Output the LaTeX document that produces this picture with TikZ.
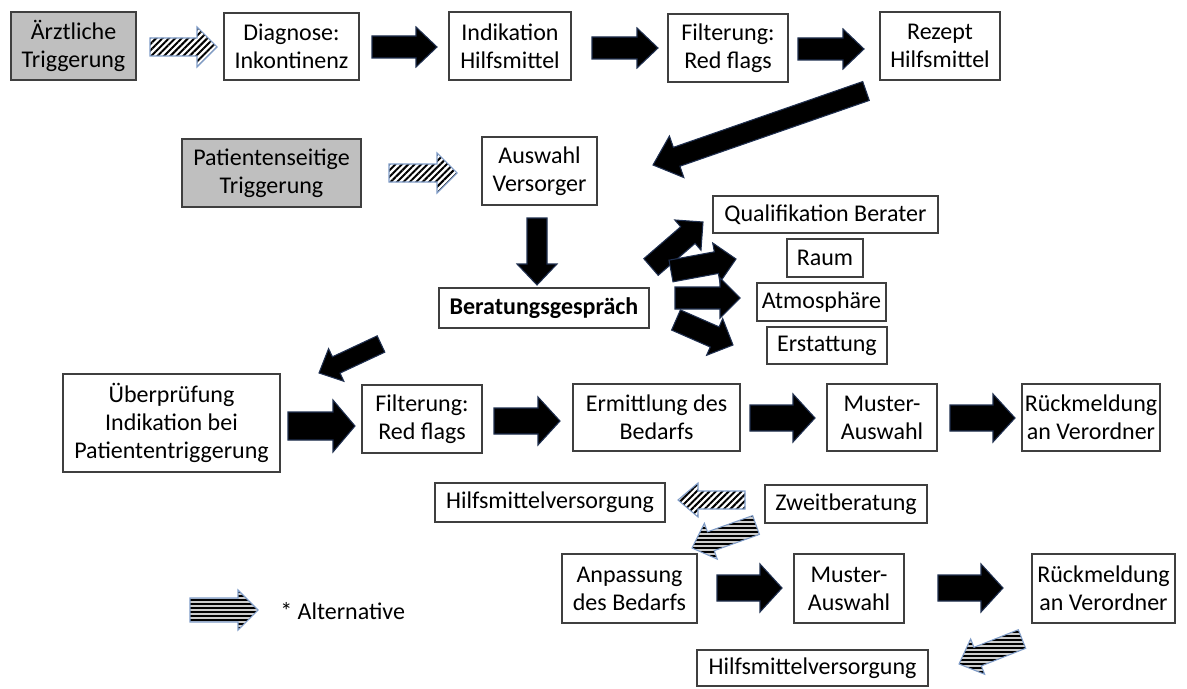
\documentclass[tikz,border=0pt]{standalone}
\usepackage{fontspec}
\setmainfont{Carlito}
\usetikzlibrary{calc,patterns.meta}
\definecolor{boxline}{HTML}{3F3F3F}
\definecolor{trig}{HTML}{BFBFBF}
\definecolor{arrline}{HTML}{1F2F4F}
\definecolor{hatchline}{HTML}{7F9CC8}
% block arrow: #1 style, #2 tail, #3 tip, #4 shaft half width, #5 head half width, #6 head length (px)
\newcommand\barrow[6]{%
  \path[#1] let \p1=(#2), \p2=(#3), \n1={atan2(\y2-\y1,\x2-\x1)},
    \n2={veclen(\x2-\x1,\y2-\y1)}, \n3={\n2-0.75*#6pt}, \n4={0.75*#4pt}, \n5={0.75*#5pt},
    \n6={cos(\n1)}, \n7={sin(\n1)} in
   ({\x1+\n4*\n7},{\y1-\n4*\n6})
   -- ({\x1+\n3*\n6+\n4*\n7},{\y1+\n3*\n7-\n4*\n6})
   -- ({\x1+\n3*\n6+\n5*\n7},{\y1+\n3*\n7-\n5*\n6})
   -- (\p2)
   -- ({\x1+\n3*\n6-\n5*\n7},{\y1+\n3*\n7+\n5*\n6})
   -- ({\x1+\n3*\n6-\n4*\n7},{\y1+\n3*\n7+\n4*\n6})
   -- ({\x1-\n4*\n7},{\y1+\n4*\n6}) -- cycle;}
\begin{document}
\begin{tikzpicture}[x=0.75pt,y=-0.75pt,
  box/.style n args={4}{draw=boxline, line width=1.1pt, inner sep=0pt, align=center,
     font=\fontsize{18}{21}\selectfont,
     minimum width={(#3-#1)*0.75pt}, minimum height={(#4-#2)*0.75pt},
     at={({(#1+#3)/2},{(#2+#4)/2})}},
  trig/.style={fill=trig},
  blackarr/.style={fill=black, draw=arrline, line width=0.8pt},
  hatcharr/.style={draw=hatchline, line width=0.8pt, preaction={fill=white}, pattern={Lines[angle=45,distance=3.4pt,line width=1.5pt]}},
  stripearr/.style={draw=hatchline, line width=0.8pt, preaction={fill=black!20}, pattern={Lines[angle=0,distance=3pt,line width=1.4pt]}}]
\useasboundingbox (0,0) rectangle (1187,688);
% row 1
\node[box={11}{12}{136}{80}, trig] (aerzt) {Ärztliche\\Triggerung};
\node[box={224}{13}{359}{80}] (diag) {Diagnose:\\Inkontinenz};
\node[box={449}{12}{571}{80}] (indik) {Indikation\\Hilfsmittel};
\node[box={668}{14}{788}{82}] (filt1) {Filterung:\\Red flags};
\node[box={880}{12}{1000}{80}] (rezept) {Rezept\\Hilfsmittel};
% row 2
\node[box={182}{139}{361}{207}, trig] (pat) {Patientenseitige\\Triggerung};
\node[box={482}{137}{597}{205}] (auswahl) {Auswahl\\Versorger};
\node[box={439}{288}{649}{328}] (berat) {\bfseries Beratungsgespräch};
\node[box={713}{196}{938}{233}] (qual) {Qualifikation Berater};
\node[box={787}{239}{863}{277}] (raum) {Raum};
\node[box={757}{283}{886}{321}] (atmos) {Atmosphäre};
\node[box={767}{327}{887}{364}] (erst) {Erstattung};
% row 3
\node[box={63}{374}{280}{472}] (ueber) {Überprüfung\\Indikation bei\\Patiententriggerung};
\node[box={362}{385}{482}{453}] (filt2) {Filterung:\\Red flags};
\node[box={573}{384}{740}{451}] (ermitt) {Ermittlung des\\Bedarfs};
\node[box={827}{384}{937}{451}] (muster1) {Muster-\\Auswahl};
\node[box={1022}{384}{1160}{451}] (rueck1) {Rückmeldung\\an Verordner};
% row 4
\node[box={435}{483}{665}{522}] (hilfs1) {Hilfsmittelversorgung};
\node[box={765}{485}{927}{523}] (zweit) {Zweitberatung};
\node[box={562}{554}{697}{623}] (anpass) {Anpassung\\des Bedarfs};
\node[box={794}{554}{904}{623}] (muster2) {Muster-\\Auswahl};
\node[box={1032}{554}{1175}{623}] (rueck2) {Rückmeldung\\an Verordner};
\node[box={697}{650}{928}{686}] (hilfs2) {Hilfsmittelversorgung};
% legend
\node[anchor=west, inner sep=0pt, font=\fontsize{18}{21}\selectfont] (legtext) at (280,611) {* Alternative};
% arrows row 1
\barrow{hatcharr}{150,47}{217,47}{9}{20}{20}
\barrow{blackarr}{372,47}{437,47}{11}{20}{21}
\barrow{blackarr}{592,48}{658,48}{11}{20}{21}
\barrow{blackarr}{798,49}{864,49}{11}{20}{21}
\barrow{blackarr}{866,91}{653,165}{10}{22}{25}
% row 2
\barrow{hatcharr}{389,173}{457,173}{9}{20}{20}
\barrow{blackarr}{537,218}{537,285}{10}{20}{21}
\barrow{blackarr}{651,267}{703,222}{11}{20}{20}
\barrow{blackarr}{671,271}{736,259}{11}{20}{20}
\barrow{blackarr}{675,298}{740,298}{11}{20}{20}
\barrow{blackarr}{676,320}{733,345}{11}{20}{20}
\barrow{blackarr}{381,344}{319,373}{9}{18}{19}
% row 3
\barrow{blackarr}{288,426}{355,426}{14}{26}{22}
\barrow{blackarr}{494,421}{560,421}{13}{24}{22}
\barrow{blackarr}{750,418}{815,418}{13}{24}{22}
\barrow{blackarr}{950,418}{1015,418}{13}{24}{22}
% row 4
\barrow{hatcharr}{745,500}{678,500}{9}{17}{20}
\barrow{stripearr}{756,525}{692,548}{10}{19}{20}
\barrow{blackarr}{717,588}{782,588}{13}{24}{22}
\barrow{blackarr}{938,588}{1003,588}{13}{24}{22}
\barrow{stripearr}{1022,639}{959,664}{10}{19}{20}
% legend arrow
\barrow{stripearr}{190,610}{258,610}{12}{20}{20}
\end{tikzpicture}
\end{document}
